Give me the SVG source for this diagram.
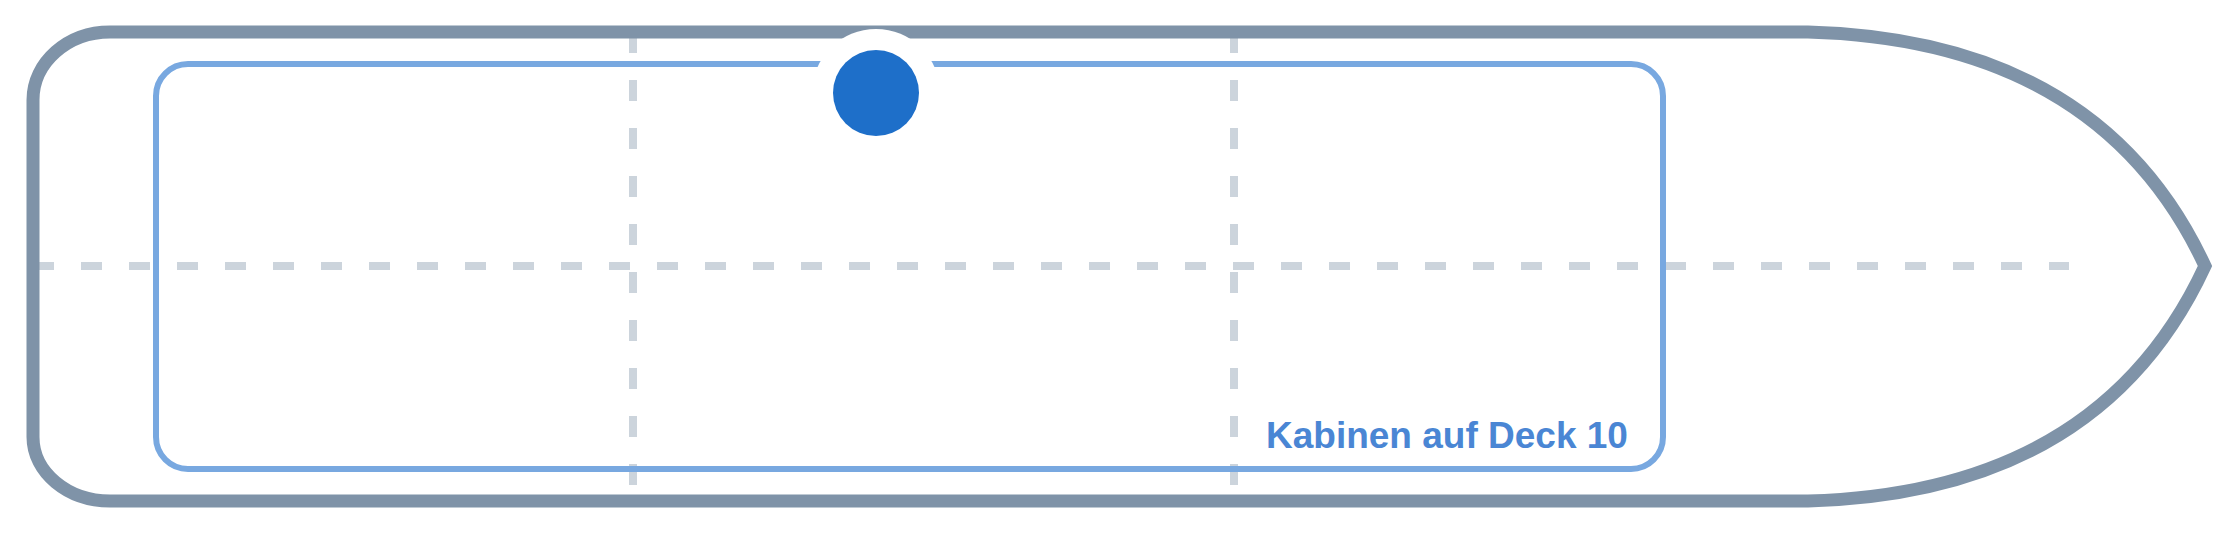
<svg xmlns="http://www.w3.org/2000/svg" width="2240" height="533" viewBox="0 0 2240 533">
  <style>
    .hull { fill: #ffffff; stroke: #7f93a8; stroke-width: 13; stroke-linejoin: miter; stroke-miterlimit: 10; }
    .guide { fill: none; stroke: #7f93a8; stroke-opacity: 0.4; stroke-width: 8; stroke-dasharray: 21 27; }
    .deck { fill: none; stroke: #78a8e0; stroke-width: 6; }
    .label { font-family: "Liberation Sans", Arial, sans-serif; font-weight: bold; font-size: 37px; fill: #4a86d4; }
  </style>
  <rect width="2240" height="533" fill="#ffffff"/>
  <g id="hull">
    <path class="hull" d="M 110 32 L 1808 32 Q 2100 40 2205 266 Q 2100 493 1808 501 L 110 501 C 67.5 501 33 472.3 33 437 L 33 100 C 33 62.5 67.5 32 110 32 Z"/>
  </g>
  <g id="guides">
    <line class="guide" x1="33" y1="266" x2="2069" y2="266"/>
    <line class="guide" x1="633" y1="32" x2="633" y2="501"/>
    <line class="guide" x1="1234" y1="32" x2="1234" y2="501"/>
  </g>
  <g id="deck10">
    <rect class="deck" x="156" y="64" width="1507" height="405" rx="32" ry="32"/>
    <text class="label" x="1266" y="448">Kabinen auf Deck 10</text>
  </g>
  <g id="marker">
    <circle cx="876" cy="93" r="64" fill="#ffffff"/>
    <circle cx="876" cy="93" r="43" fill="#1e6fc9"/>
  </g>
</svg>
